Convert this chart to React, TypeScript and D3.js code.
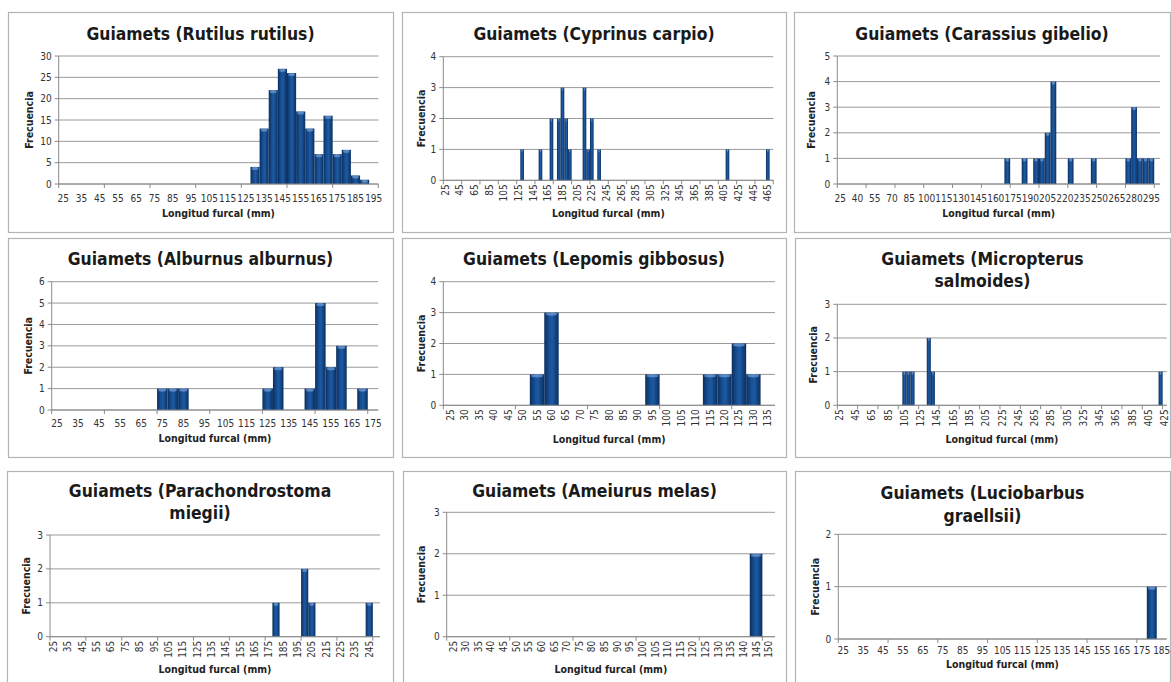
import React from "react";
import * as d3 from "d3";

// ---------- DATA (length class in mm -> number of fish) ----------
const rutilusLengths = [130, 135, 140, 145, 150, 155, 160, 165, 170, 175, 180, 185, 190];
const rutilusCounts = [4, 13, 22, 27, 26, 17, 13, 7, 16, 7, 8, 2, 1];

const cyprinusLengths = [130, 155, 170, 180, 185, 190, 195, 215, 220, 225, 235, 410, 465];
const cyprinusCounts = [1, 1, 2, 2, 3, 2, 1, 3, 1, 2, 1, 1, 1];

const carassiusLengths = [170, 185, 195, 200, 205, 210, 225, 245, 275, 280, 285, 290, 295];
const carassiusCounts = [1, 1, 1, 1, 2, 4, 1, 1, 1, 3, 1, 1, 1];

const alburnusLengths = [75, 80, 85, 125, 130, 145, 150, 155, 160, 170];
const alburnusCounts = [1, 1, 1, 1, 2, 1, 5, 2, 3, 1];

const lepomisLengths = [55, 60, 95, 115, 120, 125, 130];
const lepomisCounts = [1, 3, 1, 1, 1, 2, 1];

const micropterusLengths = [105, 110, 115, 135, 140, 420];
const micropterusCounts = [1, 1, 1, 2, 1, 1];

const parachondrostomaLengths = [180, 200, 205, 245];
const parachondrostomaCounts = [1, 2, 1, 1];

const ameiurusLengths = [145];
const ameiurusCounts = [2];

const luciobarbusLengths = [180];
const luciobarbusCounts = [1];

// category axis: first class, last class (5 mm classes)
const classStart = 25;
const classStep = 5;
const rutilusLastClass = 195;
const cyprinusLastClass = 470;
const carassiusLastClass = 300;
const alburnusLastClass = 175;
const lepomisLastClass = 135;
const micropterusLastClass = 425;
const parachondrostomaLastClass = 250;
const ameiurusLastClass = 150;
const luciobarbusLastClass = 185;

const yTickStep = [5, 1, 1, 1, 1, 1, 1, 1, 1];
const yMaxValues = [30, 4, 5, 6, 4, 3, 3, 3, 2];

const titles = [
  ["Guiamets (Rutilus rutilus)"],
  ["Guiamets (Cyprinus carpio)"],
  ["Guiamets (Carassius gibelio)"],
  ["Guiamets (Alburnus alburnus)"],
  ["Guiamets (Lepomis gibbosus)"],
  ["Guiamets (Micropterus", "salmoides)"],
  ["Guiamets (Parachondrostoma", "miegii)"],
  ["Guiamets (Ameiurus melas)"],
  ["Guiamets (Luciobarbus", "graellsii)"],
];

const xAxisTitle = "Longitud furcal (mm)";
const yAxisTitle = "Frecuencia";

const seriesLengths = [
  rutilusLengths, cyprinusLengths, carassiusLengths,
  alburnusLengths, lepomisLengths, micropterusLengths,
  parachondrostomaLengths, ameiurusLengths, luciobarbusLengths,
];
const seriesCounts = [
  rutilusCounts, cyprinusCounts, carassiusCounts,
  alburnusCounts, lepomisCounts, micropterusCounts,
  parachondrostomaCounts, ameiurusCounts, luciobarbusCounts,
];
const lastClasses = [
  rutilusLastClass, cyprinusLastClass, carassiusLastClass,
  alburnusLastClass, lepomisLastClass, micropterusLastClass,
  parachondrostomaLastClass, ameiurusLastClass, luciobarbusLastClass,
];
// label every n categories
const labelEvery = [2, 4, 3, 2, 1, 4, 2, 1, 2];
const rotatedLabels = [false, true, false, false, true, true, true, true, false];

// ---------- LAYOUT ----------
type Layout = {
  box: [number, number, number, number];
  plot: [number, number, number, number]; // x0, x1, top, bottom
  titleY: number[];
  yTitleX: number;
  xTitleY: number;
  labelDy: number;
};

const layouts: Layout[] = [
  { box: [8, 12, 385, 220], plot: [58.7, 378.3, 56, 184], titleY: [39.5], yTitleX: 29.5, xTitleY: 217, labelDy: 17.5 },
  { box: [402, 12, 384, 220], plot: [443.3, 773.3, 56.7, 180.3], titleY: [39.5], yTitleX: 421.7, xTitleY: 217, labelDy: 0 },
  { box: [794, 12, 376, 220], plot: [837.3, 1160, 56, 184], titleY: [39.5], yTitleX: 811.7, xTitleY: 217, labelDy: 17.5 },
  { box: [8, 238, 385, 219], plot: [51.7, 378.3, 281.7, 410], titleY: [265], yTitleX: 28.3, xTitleY: 442, labelDy: 16.5 },
  { box: [402, 238, 384, 219], plot: [443.3, 775, 281.7, 405.3], titleY: [265], yTitleX: 421.7, xTitleY: 443, labelDy: 0 },
  { box: [795, 238, 375, 219], plot: [837.3, 1166.7, 304.3, 405.3], titleY: [265, 287], yTitleX: 813.3, xTitleY: 443, labelDy: 0 },
  { box: [7, 471, 386, 215], plot: [50, 380, 535, 636.7], titleY: [497, 519], yTitleX: 26.7, xTitleY: 673, labelDy: 0 },
  { box: [403, 471, 383, 215], plot: [446.7, 775, 512.3, 636.7], titleY: [497], yTitleX: 421.7, xTitleY: 673, labelDy: 0 },
  { box: [795, 471, 375, 215], plot: [838.3, 1166.7, 534.3, 639], titleY: [498.5, 522], yTitleX: 815, xTitleY: 667.5, labelDy: 14.5 },
];

const FONT = "'DejaVu Sans Condensed', 'DejaVu Sans', sans-serif";

function Panel({ i }: { i: number }) {
  const L = layouts[i];
  const [x0, x1, top, bottom] = L.plot;
  const cats = d3.range(classStart, lastClasses[i] + 1, classStep);
  const countMap = new Map<number, number>();
  seriesLengths[i].forEach((l, k) => countMap.set(l, seriesCounts[i][k]));
  const data = cats.map((c) => ({ c, n: countMap.get(c) ?? 0 }));

  const x = d3.scaleBand<number>().domain(cats).range([x0, x1]).padding(0);
  const y = d3.scaleLinear().domain([0, yMaxValues[i]]).range([bottom, top]);
  const yTicks = d3.range(0, yMaxValues[i] + 0.001, yTickStep[i]);
  const bw = x.bandwidth();
  const tickIdx = d3.range(0, cats.length + 1, 5);

  return (
    <g>
      <rect x={L.box[0] + 0.5} y={L.box[1] + 0.5} width={L.box[2]} height={L.box[3]} fill="#fff" stroke="#b4b4b4" strokeWidth={1.2} />
      {L.titleY.map((ty, k) => (
        <text key={k} x={L.box[0] + L.box[2] / 2} y={ty} textAnchor="middle" fontFamily={FONT} fontStretch="condensed" fontWeight="bold" fontSize={17.4} fill="#1a1a1a">
          {titles[i][k]}
        </text>
      ))}
      {/* grid */}
      {yTicks.map((t) => (
        <line key={t} x1={x0} x2={x1} y1={y(t)} y2={y(t)} stroke="#9a9a9a" strokeWidth={1} />
      ))}
      {/* y axis */}
      <line x1={x0} x2={x0} y1={top} y2={bottom} stroke="#8a8a8a" />
      {yTicks.map((t) => (
        <g key={"yt" + t}>
          <line x1={x0 - 4} x2={x0} y1={y(t)} y2={y(t)} stroke="#8a8a8a" />
          <text x={x0 - 7} y={y(t) + 3.5} textAnchor="end" fontFamily={FONT} fontSize={10} fill="#333">
            {t}
          </text>
        </g>
      ))}
      {/* bars */}
      {data.filter((d) => d.n > 0).map((d) => {
        const bx = x(d.c)!;
        const by = y(d.n);
        return (
          <g key={d.c}>
            <rect x={bx} y={by} width={bw} height={bottom - by} fill="url(#barGrad)" />
            <ellipse cx={bx + bw / 2} cy={by + 1.5} rx={Math.max(bw / 2 - 1.2, 0.5)} ry={1.6} fill="#6f9ad3" opacity={0.75} />
          </g>
        );
      })}
      {/* x axis */}
      <line x1={x0} x2={x1} y1={bottom} y2={bottom} stroke="#8a8a8a" />
      {tickIdx.map((k) => {
        const tx = k < cats.length ? x(cats[k])! : x1;
        return <line key={"xt" + k} x1={tx} x2={tx} y1={bottom} y2={bottom + 4} stroke="#8a8a8a" />;
      })}
      {data.map((d, k) => {
        if (k % labelEvery[i] !== 0) return null;
        const cx = x(d.c)! + bw / 2;
        if (rotatedLabels[i]) {
          return (
            <text key={"xl" + d.c} transform={`translate(${cx + 3.5},${bottom + 4}) rotate(-90)`} textAnchor="end" fontFamily={FONT} fontSize={10} fill="#333">
              {d.c}
            </text>
          );
        }
        return (
          <text key={"xl" + d.c} x={cx} y={bottom + L.labelDy} textAnchor="middle" fontFamily={FONT} fontSize={10} fill="#333">
            {d.c}
          </text>
        );
      })}
      <text x={(x0 + x1) / 2} y={L.xTitleY} textAnchor="middle" fontFamily={FONT} fontStretch="condensed" fontWeight="bold" fontSize={10.5} fill="#222">
        {xAxisTitle}
      </text>
      <text transform={`translate(${L.yTitleX + 3.5},${(top + bottom) / 2}) rotate(-90)`} textAnchor="middle" fontFamily={FONT} fontStretch="condensed" fontWeight="bold" fontSize={10.5} fill="#222">
        {yAxisTitle}
      </text>
    </g>
  );
}

export default function App() {
  return (
    <svg width={1171} height={682} style={{ position: "absolute", left: 0, top: 0, background: "#fff" }}>
      <defs>
        <linearGradient id="barGrad" x1="0" x2="1" y1="0" y2="0">
          <stop offset="0%" stopColor="#0b2f5e" />
          <stop offset="35%" stopColor="#174f94" />
          <stop offset="55%" stopColor="#1d5aa3" />
          <stop offset="100%" stopColor="#0b2f5e" />
        </linearGradient>
      </defs>
      <rect x={0} y={0} width={1171} height={682} fill="#fff" />
      {layouts.map((_, i) => (
        <Panel key={i} i={i} />
      ))}
    </svg>
  );
}
